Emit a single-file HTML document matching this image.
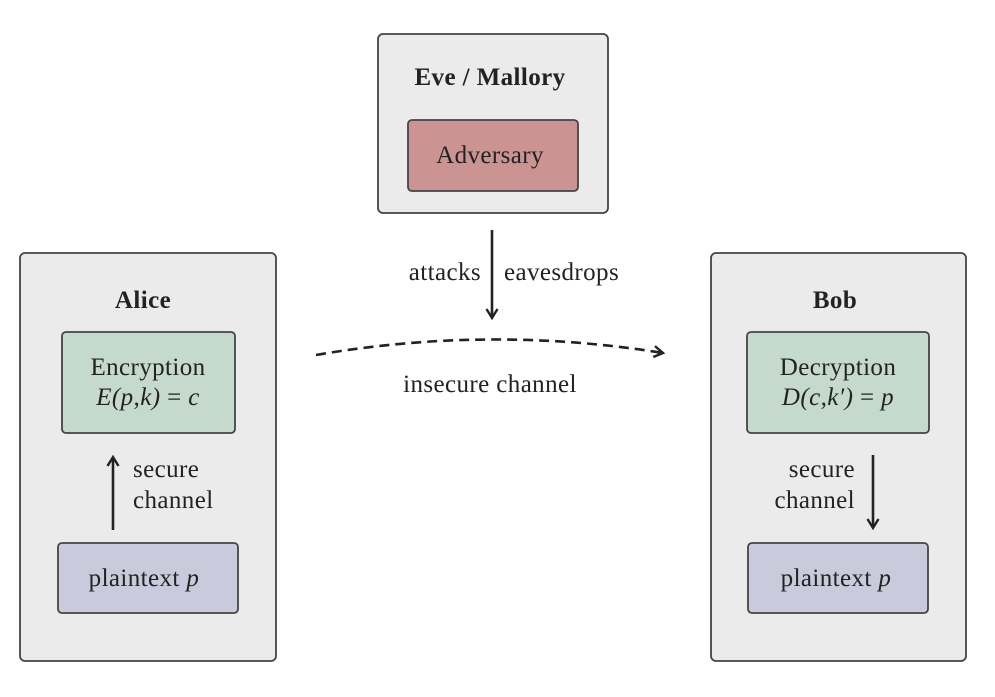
<!DOCTYPE html>
<html><head><meta charset="utf-8"><style>
html,body{margin:0;padding:0;background:#fff}
svg text{font-family:"Liberation Serif",serif;fill:#222;letter-spacing:0.4px}
</style></head><body>
<svg width="995" height="692" viewBox="0 0 995 692" xmlns="http://www.w3.org/2000/svg">
<defs>
<marker id="ah" viewBox="0 0 14 14" refX="11" refY="7" markerWidth="14" markerHeight="14" markerUnits="userSpaceOnUse" orient="auto"><path d="M2,1.5 L11,7 L2,12.5" fill="none" stroke="#222" stroke-width="2.4"/></marker>
</defs>
<g stroke="#444" stroke-width="1.8">
<rect x="378" y="34" width="230" height="179" rx="5" fill="#ebebeb"/>
<rect x="408" y="120" width="170" height="71" rx="4" fill="#cc9393"/>
<rect x="20" y="253" width="256" height="408" rx="5" fill="#ebebeb"/>
<rect x="62" y="332" width="173" height="101" rx="4" fill="#c5d9cd"/>
<rect x="58" y="543" width="180" height="70" rx="4" fill="#c9cadb"/>
<rect x="711" y="253" width="255" height="408" rx="5" fill="#ebebeb"/>
<rect x="747" y="332" width="182" height="101" rx="4" fill="#c5d9cd"/>
<rect x="748" y="543" width="180" height="70" rx="4" fill="#c9cadb"/>
</g>
<g stroke="#222" stroke-width="2.6" fill="none">
<line x1="492" y1="230" x2="492" y2="318" marker-end="url(#ah)"/>
<line x1="113" y1="530" x2="113" y2="457" marker-end="url(#ah)"/>
<line x1="873" y1="455" x2="873" y2="528" marker-end="url(#ah)"/>
<path d="M316,355 Q490,325 663,353" stroke-dasharray="10,6" marker-end="url(#ah)"/>
</g>
<g font-size="25">
<text x="490" y="85" text-anchor="middle" font-weight="bold">Eve / Mallory</text>
<text x="490" y="163" text-anchor="middle">Adversary</text>
<text x="481" y="280" text-anchor="end">attacks</text>
<text x="504" y="280">eavesdrops</text>
<text x="490" y="392" text-anchor="middle">insecure channel</text>
<text x="143" y="308" text-anchor="middle" font-weight="bold">Alice</text>
<text x="148" y="375" text-anchor="middle">Encryption</text>
<text x="148" y="405" text-anchor="middle" font-style="italic">E(p,k)<tspan font-style="normal"> = </tspan>c</text>
<text x="133" y="477">secure</text>
<text x="133" y="508">channel</text>
<text x="144" y="586" text-anchor="middle">plaintext <tspan font-style="italic">p</tspan></text>
<text x="835" y="308" text-anchor="middle" font-weight="bold">Bob</text>
<text x="838" y="375" text-anchor="middle">Decryption</text>
<text x="838" y="405" text-anchor="middle" font-style="italic">D(c,k′)<tspan font-style="normal"> = </tspan>p</text>
<text x="855" y="477" text-anchor="end">secure</text>
<text x="855" y="508" text-anchor="end">channel</text>
<text x="836" y="586" text-anchor="middle">plaintext <tspan font-style="italic">p</tspan></text>
</g>
</svg>
</body></html>
